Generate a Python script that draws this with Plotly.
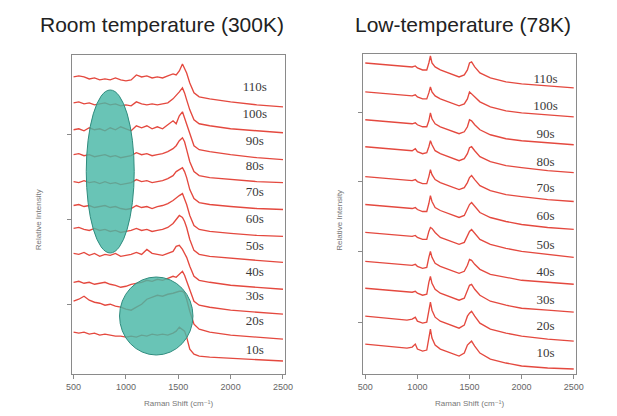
import plotly.graph_objects as go

W, H = 617, 416

# ---------------- data ----------------
TIMES = ["10s", "20s", "30s", "40s", "50s", "60s", "70s", "80s", "90s", "100s", "110s"]

X_ROOM = [500, 550, 600, 650, 700, 750, 800, 850, 900, 950, 1000, 1050, 1100, 1150, 1200,
          1250, 1300, 1350, 1400, 1450, 1480, 1510, 1540, 1560, 1580, 1610, 1650, 1700,
          1800, 2000, 2250, 2500]

ROOM = {
    "110s": [298, 299, 298, 296, 297, 295, 296, 295, 297, 295, 294, 295, 300, 298, 299, 297, 298, 297, 299, 301, 300, 304, 311, 306, 302, 292, 282, 278, 276, 273, 270, 268],
    "100s": [272, 273, 271, 272, 270, 271, 272, 270, 271, 269, 270, 269, 273, 271, 270, 271, 270, 271, 272, 276, 279, 283, 287, 282, 275, 265, 255, 251, 249, 246, 244, 242],
    "90s":  [245, 246, 244, 247, 245, 246, 244, 247, 245, 248, 246, 244, 249, 247, 249, 246, 248, 246, 250, 254, 251, 259, 263, 257, 251, 240, 229, 225, 223, 220, 217, 215],
    "80s":  [220, 221, 219, 220, 218, 219, 220, 218, 219, 217, 218, 219, 222, 220, 221, 219, 220, 221, 223, 226, 229, 234, 237, 233, 225, 213, 203, 199, 197, 195, 193, 192],
    "70s":  [193, 192, 194, 192, 193, 191, 193, 191, 192, 190, 191, 192, 195, 193, 194, 192, 193, 194, 196, 199, 203, 205, 207, 203, 197, 185, 176, 172, 170, 168, 166, 165],
    "60s":  [169, 170, 168, 169, 167, 168, 169, 167, 168, 166, 165, 166, 169, 167, 168, 166, 168, 169, 171, 174, 177, 179, 181, 176, 170, 159, 149, 145, 143, 141, 139, 138],
    "50s":  [146, 147, 145, 144, 146, 144, 145, 143, 144, 142, 143, 144, 146, 144, 145, 143, 144, 145, 147, 151, 155, 159, 157, 153, 147, 135, 124, 120, 118, 116, 114, 112],
    "40s":  [121, 120, 122, 119, 121, 118, 120, 119, 121, 118, 119, 120, 122, 120, 125, 121, 120, 119, 121, 123, 128, 129, 125, 121, 117, 108, 98, 94, 92, 89, 87, 85],
    "30s":  [92, 93, 91, 92, 90, 91, 92, 90, 89, 87, 88, 90, 91, 92, 94, 93, 95, 94, 96, 98, 97, 100, 103, 99, 93, 83, 73, 69, 67, 64, 62, 60],
    "20s":  [73, 75, 78, 74, 72, 71, 69, 70, 68, 67, 65, 64, 67, 70, 75, 77, 79, 78, 80, 81, 82, 83, 83, 81, 75, 63, 50, 45, 42, 39, 37, 35],
    "10s":  [42, 41, 42, 40, 41, 39, 40, 39, 38, 38, 37, 38, 37, 39, 38, 40, 39, 40, 39, 41, 43, 47, 45, 43, 37, 25, 20, 18, 17, 16, 14, 13],
}

X_LOW = [500, 600, 700, 800, 900, 950, 980, 1000, 1050, 1090, 1110, 1125, 1140, 1170, 1220,
         1300, 1400, 1450, 1480, 1500, 1520, 1550, 1600, 1700, 1850, 2000, 2250, 2500]

LOW = {
    "110s": [312, 311, 310, 309, 308, 308, 309, 307, 305, 305, 312, 319, 312, 308, 305, 302, 298, 300, 305, 312, 313, 308, 302, 297, 293, 291, 289, 287],
    "100s": [283, 282, 281, 280, 279, 279, 280, 278, 276, 276, 282, 288, 283, 279, 276, 273, 269, 271, 276, 283, 281, 278, 273, 268, 264, 262, 260, 258],
    "90s":  [255, 254, 253, 252, 251, 251, 252, 250, 248, 248, 254, 262, 256, 251, 248, 245, 241, 243, 248, 255, 254, 250, 245, 240, 236, 234, 232, 230],
    "80s":  [228, 227, 226, 225, 224, 224, 226, 223, 221, 222, 228, 234, 230, 224, 221, 218, 214, 216, 221, 227, 228, 224, 218, 213, 209, 207, 204, 202],
    "70s":  [198, 197, 196, 195, 194, 194, 195, 193, 191, 191, 198, 205, 200, 195, 192, 189, 185, 187, 192, 197, 199, 195, 189, 184, 180, 178, 175, 173],
    "60s":  [170, 169, 168, 167, 166, 166, 167, 165, 163, 163, 171, 179, 173, 167, 164, 161, 157, 159, 165, 170, 172, 168, 162, 157, 153, 150, 147, 145],
    "50s":  [142, 141, 140, 139, 138, 138, 139, 137, 135, 135, 143, 147, 146, 142, 137, 134, 130, 132, 138, 143, 145, 141, 135, 130, 126, 123, 120, 117],
    "40s":  [113, 112, 111, 110, 109, 109, 110, 108, 106, 107, 117, 123, 117, 111, 108, 105, 101, 103, 109, 115, 114, 110, 105, 100, 97, 94, 92, 90],
    "30s":  [86, 85, 84, 83, 82, 82, 83, 81, 79, 80, 92, 98, 91, 85, 81, 78, 74, 76, 83, 89, 90, 85, 79, 73, 69, 66, 64, 62],
    "20s":  [58, 57, 56, 55, 54, 55, 57, 53, 51, 52, 65, 72, 64, 57, 53, 50, 46, 49, 58, 61, 63, 58, 51, 45, 41, 38, 35, 33],
    "10s":  [30, 29, 28, 27, 26, 27, 30, 25, 23, 24, 37, 45, 36, 29, 25, 22, 18, 21, 29, 31, 33, 28, 21, 15, 11, 8, 6, 5],
}

LABEL_X = 2230
ROOM_LABEL_Y = [23, 52, 77, 102, 128, 155, 182, 208, 233, 260, 287]
LOW_LABEL_Y = [20, 47, 73, 102, 129, 158, 186, 212, 240, 268, 295]

X_TICKS = [500, 1000, 1500, 2000, 2500]
ROOM_Y_TICKS = [70, 155, 240]
LOW_Y_TICKS = [52, 123, 193, 262]

# ---------------- figure ----------------
LINE = dict(color="#e4493f", width=1.35)
fig = go.Figure()

for t in TIMES:
    fig.add_trace(go.Scatter(x=X_ROOM, y=ROOM[t], mode="lines", line=LINE,
                             xaxis="x", yaxis="y", showlegend=False, hoverinfo="skip"))
    fig.add_trace(go.Scatter(x=X_LOW, y=LOW[t], mode="lines", line=LINE,
                             xaxis="x2", yaxis="y2", showlegend=False, hoverinfo="skip"))

label_font = dict(family="Liberation Serif", size=13, color="#3a3a3a")
fig.add_trace(go.Scatter(x=[LABEL_X] * len(TIMES), y=ROOM_LABEL_Y, text=TIMES, mode="text",
                         textfont=label_font, xaxis="x", yaxis="y",
                         showlegend=False, hoverinfo="skip"))
fig.add_trace(go.Scatter(x=[LABEL_X] * len(TIMES), y=LOW_LABEL_Y, text=TIMES, mode="text",
                         textfont=label_font, xaxis="x2", yaxis="y2",
                         showlegend=False, hoverinfo="skip"))


def px_x(p):
    return p / W


def px_y(p):
    return (H - p) / H


axis_common = dict(showgrid=False, zeroline=False, showline=True, linecolor="#8a8a8a",
                   linewidth=1, mirror=True, ticks="outside", ticklen=4, tickwidth=1,
                   tickcolor="#8a8a8a")
xfont = dict(family="Liberation Sans", size=9, color="#666666")

fig.update_layout(
    width=W, height=H, margin=dict(l=0, r=0, t=0, b=0),
    paper_bgcolor="white", plot_bgcolor="white",
    xaxis=dict(domain=[px_x(68), px_x(286)], range=[481, 2519], tickvals=X_TICKS,
               tickfont=xfont, anchor="y", **axis_common),
    yaxis=dict(domain=[px_y(374), px_y(55)], range=[0, 320], tickvals=ROOM_Y_TICKS,
               showticklabels=False, anchor="x", **axis_common),
    xaxis2=dict(domain=[px_x(366), px_x(583)], range=[481, 2519], tickvals=X_TICKS,
                tickfont=xfont, anchor="y2", **axis_common),
    yaxis2=dict(domain=[px_y(374), px_y(54)], range=[0, 321], tickvals=LOW_Y_TICKS,
                showticklabels=False, anchor="x2", **axis_common),
)

# highlight shapes on the room temperature panel
teal = "rgba(72,183,166,0.82)"
edge = "#2f8c7e"
fig.add_shape(type="circle", xref="paper", yref="paper",
              x0=px_x(83), x1=px_x(132), y0=px_y(253), y1=px_y(90),
              fillcolor=teal, line=dict(color=edge, width=1), layer="above")
fig.add_shape(type="circle", xref="paper", yref="paper",
              x0=px_x(117), x1=px_x(192), y0=px_y(355), y1=px_y(277),
              fillcolor=teal, line=dict(color=edge, width=1), layer="above")

title_font = dict(family="Liberation Sans", size=21, color="#222222")
small = dict(family="Liberation Sans, DejaVu Sans", size=8, color="#777777")
ann = [
    dict(text="Room temperature (300K)", x=px_x(160), y=px_y(24), font=title_font),
    dict(text="Low-temperature (78K)", x=px_x(468), y=px_y(24), font=title_font),
    dict(text="Raman Shift (cm\u207b\u00b9)", x=px_x(177), y=px_y(403), font=small),
    dict(text="Raman Shift (cm\u207b\u00b9)", x=px_x(475), y=px_y(403), font=small),
    dict(text="Relative Intensity", x=px_x(34), y=px_y(220), font=small, textangle=-90),
    dict(text="Relative Intensity", x=px_x(341), y=px_y(220), font=small, textangle=-90),
]
for a in ann:
    fig.add_annotation(xref="paper", yref="paper", showarrow=False,
                       xanchor="center", yanchor="middle", **a)

fig.write_html("out.html",
               config={"displayModeBar": False, "staticPlot": True},
               post_script="document.body.style.margin='0';"
                           "document.documentElement.style.overflow='hidden';")
